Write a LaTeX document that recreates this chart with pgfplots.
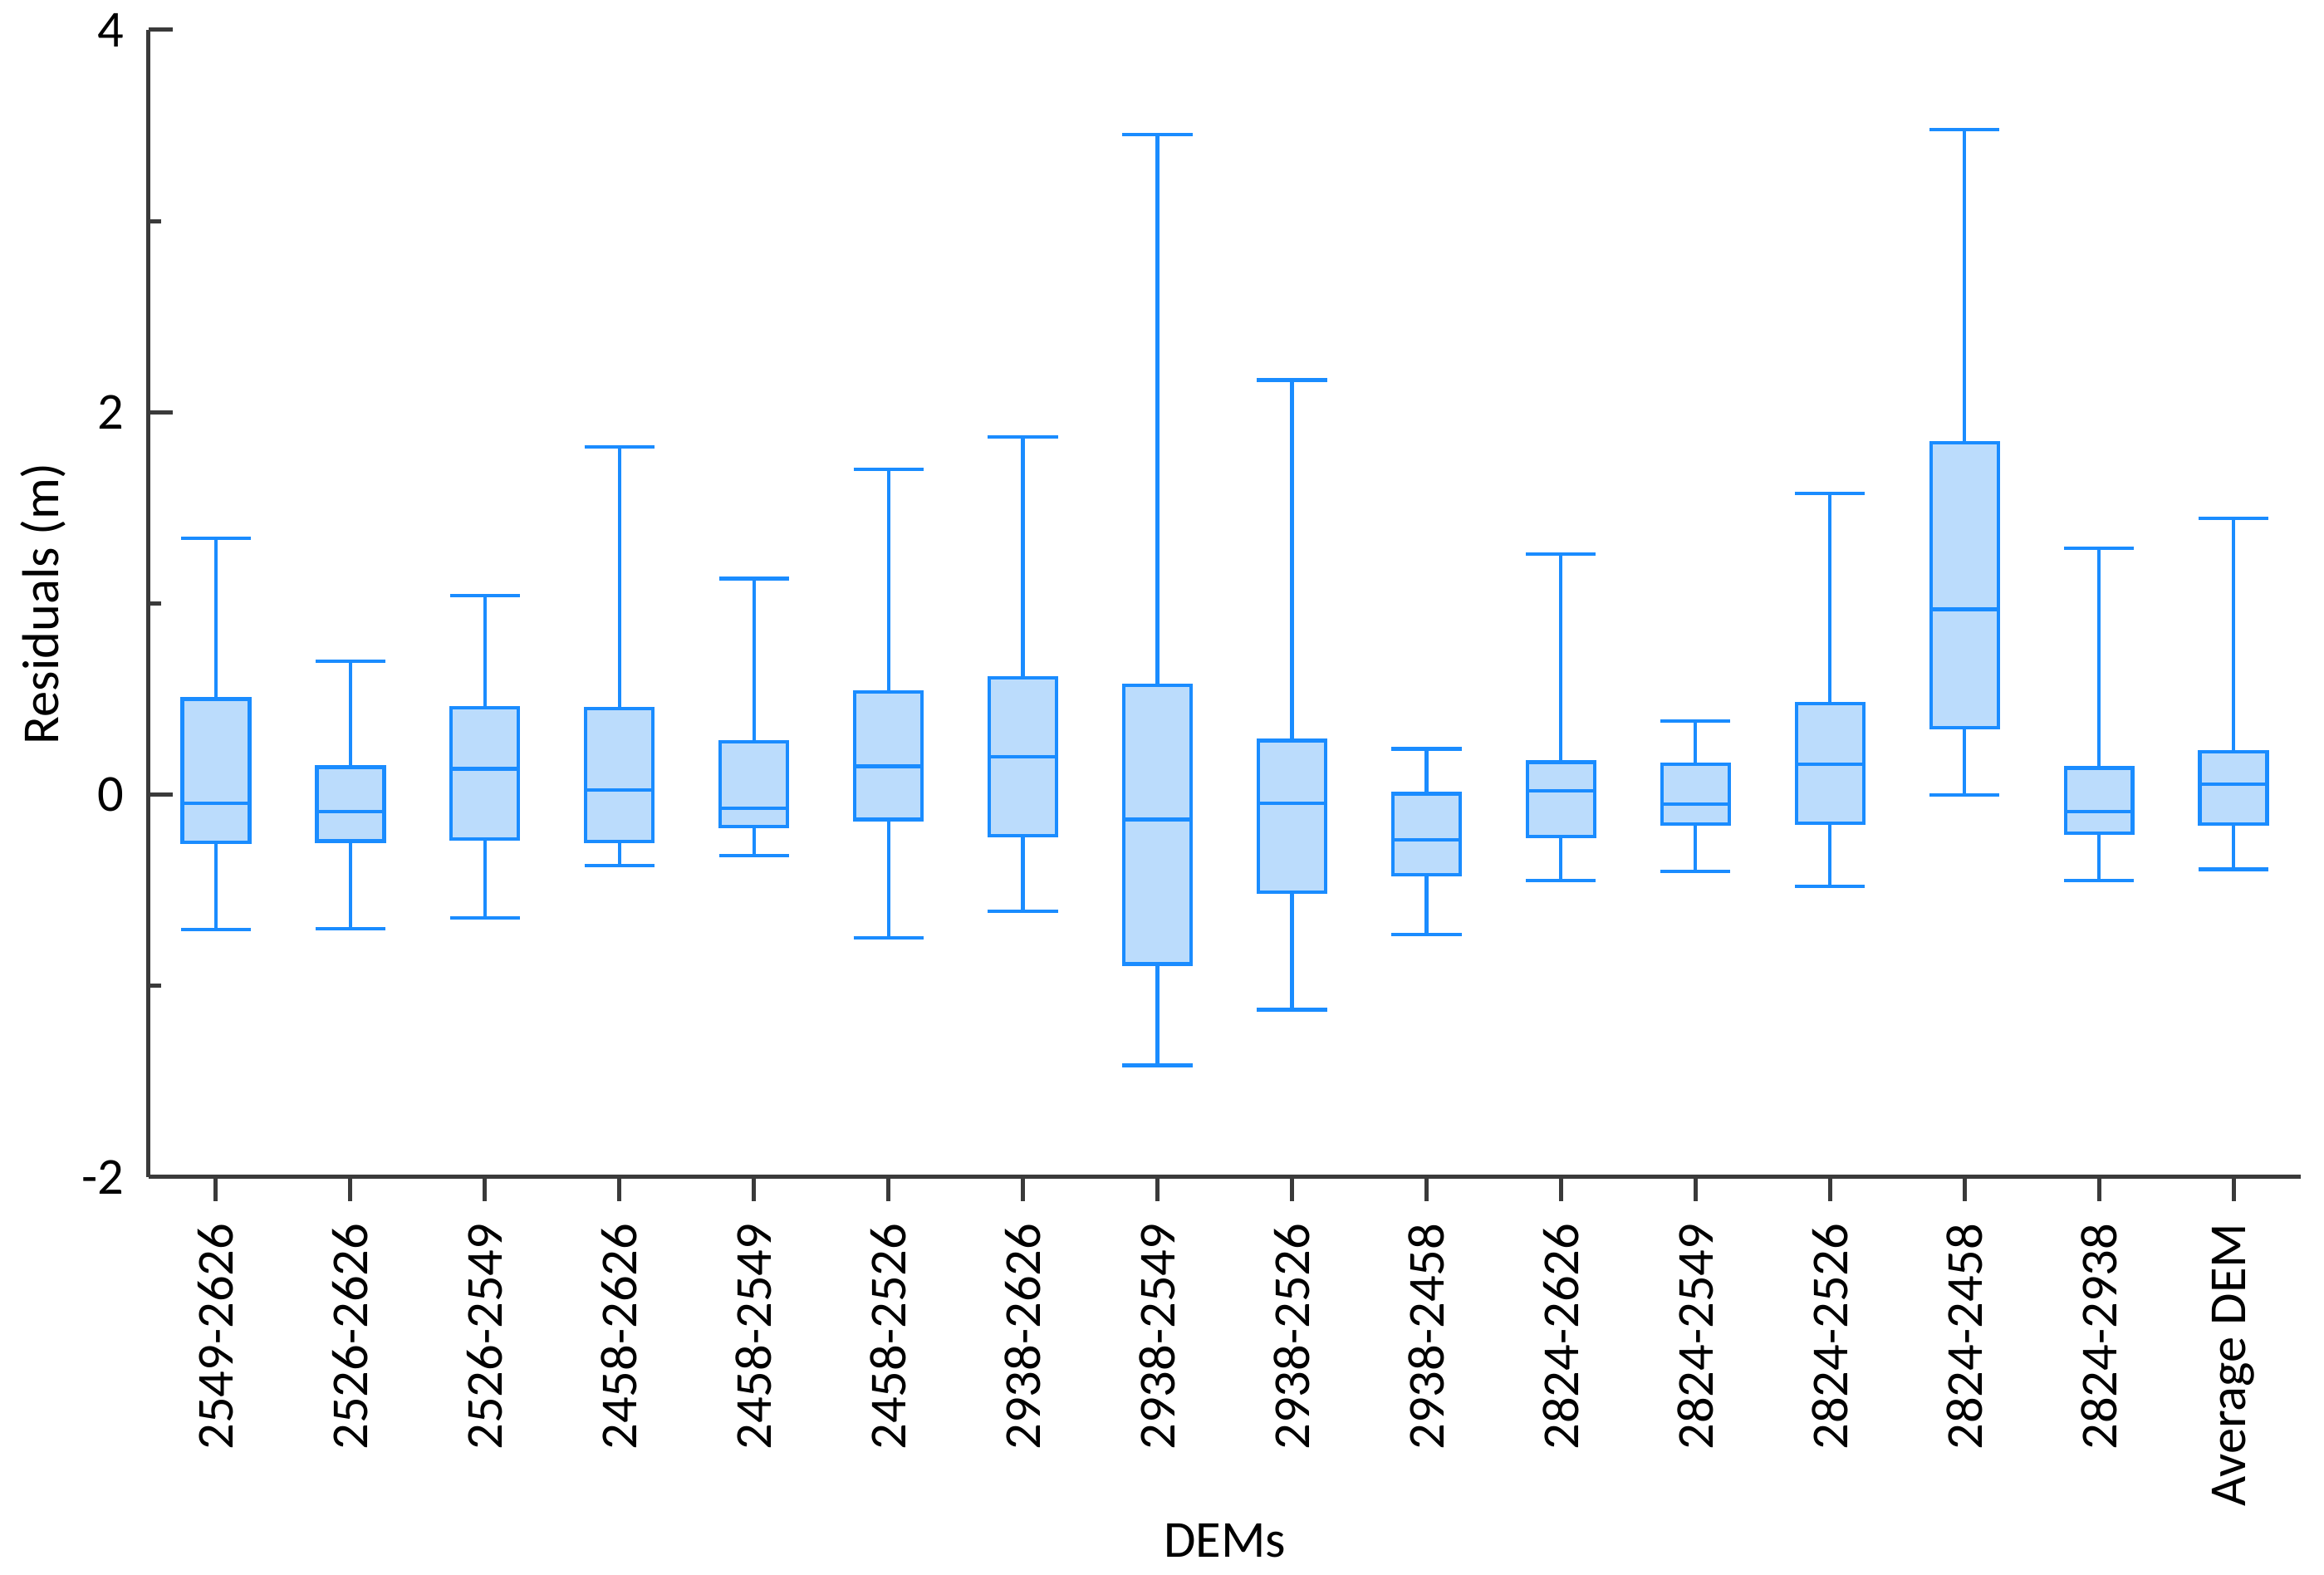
\documentclass[border=0pt]{standalone}
\usepackage{fontspec}
\setmainfont{Carlito}
\usepackage{pgfplots}
\pgfplotsset{compat=1.18}
\usepgfplotslibrary{statistics}
\definecolor{boxline}{HTML}{1A8CFF}
\definecolor{boxfill}{HTML}{BBDCFC}
\definecolor{axisgray}{HTML}{3A3A3A}
\pgfplotsset{
  dembox/.style={boxline, fill=boxfill, line width=0.85pt, solid, mark=none,
    boxplot/draw direction=y, boxplot/box extend=0.5, boxplot/whisker extend=0.52},
}
\begin{document}
\fontsize{12.5pt}{15pt}\selectfont
\begin{tikzpicture}
\begin{axis}[
  scale only axis,
  width=518.2pt, height=276.2pt,
  xmin=0.5, xmax=16.5,
  ymin=-2, ymax=4,
  axis x line*=bottom, axis y line*=left,
  axis line style={axisgray, line width=1pt},
  tick style={axisgray, line width=1pt},
  tick align=inside,
  major tick length=5.8pt,
  minor tick length=3pt,
  x tick style={yshift=-5.8pt},
  xtick={1,...,16},
  xticklabels={2549-2626,2526-2626,2526-2549,2458-2626,2458-2549,2458-2526,2938-2626,2938-2549,2938-2526,2938-2458,2824-2626,2824-2549,2824-2526,2824-2458,2824-2938,Average DEM},
  xticklabel style={yshift=-11pt, rotate=90, anchor=east, inner sep=0pt},
  ytick={-2,0,2,4},
  yticklabels={-2,0,2,4},
  minor ytick={-1,1,3},
  yticklabel style={inner sep=0pt, xshift=-5.8pt, anchor=east},
  /pgf/number format/assume math mode=true,
  xlabel={DEMs},
  ylabel={Residuals (m)},
  xlabel style={at={(rel axis cs:0.5,0)}, anchor=center, yshift=-87.5pt},
  ylabel style={at={(rel axis cs:0,0.5)}, anchor=center, yshift=25.4pt},
  clip=false,
]
\addplot[dembox, boxplot prepared={draw position=1, lower whisker=-0.705, lower quartile=-0.25, median=-0.045, upper quartile=0.50, upper whisker=1.34}] coordinates {};
\addplot[dembox, boxplot prepared={draw position=2, lower whisker=-0.70, lower quartile=-0.243, median=-0.087, upper quartile=0.144, upper whisker=0.699}] coordinates {};
\addplot[dembox, boxplot prepared={draw position=3, lower whisker=-0.645, lower quartile=-0.231, median=0.135, upper quartile=0.454, upper whisker=1.04}] coordinates {};
\addplot[dembox, boxplot prepared={draw position=4, lower whisker=-0.37, lower quartile=-0.245, median=0.025, upper quartile=0.45, upper whisker=1.82}] coordinates {};
\addplot[dembox, boxplot prepared={draw position=5, lower whisker=-0.32, lower quartile=-0.168, median=-0.071, upper quartile=0.278, upper whisker=1.13}] coordinates {};
\addplot[dembox, boxplot prepared={draw position=6, lower whisker=-0.75, lower quartile=-0.13, median=0.148, upper quartile=0.537, upper whisker=1.70}] coordinates {};
\addplot[dembox, boxplot prepared={draw position=7, lower whisker=-0.61, lower quartile=-0.214, median=0.199, upper quartile=0.612, upper whisker=1.87}] coordinates {};
\addplot[dembox, boxplot prepared={draw position=8, lower whisker=-1.416, lower quartile=-0.886, median=-0.13, upper quartile=0.571, upper whisker=3.454}] coordinates {};
\addplot[dembox, boxplot prepared={draw position=9, lower whisker=-1.125, lower quartile=-0.51, median=-0.044, upper quartile=0.283, upper whisker=2.169}] coordinates {};
\addplot[dembox, boxplot prepared={draw position=10, lower whisker=-0.73, lower quartile=-0.42, median=-0.235, upper quartile=0.005, upper whisker=0.24}] coordinates {};
\addplot[dembox, boxplot prepared={draw position=11, lower whisker=-0.45, lower quartile=-0.22, median=0.02, upper quartile=0.17, upper whisker=1.26}] coordinates {};
\addplot[dembox, boxplot prepared={draw position=12, lower whisker=-0.40, lower quartile=-0.155, median=-0.05, upper quartile=0.158, upper whisker=0.385}] coordinates {};
\addplot[dembox, boxplot prepared={draw position=13, lower whisker=-0.48, lower quartile=-0.15, median=0.16, upper quartile=0.475, upper whisker=1.575}] coordinates {};
\addplot[dembox, boxplot prepared={draw position=14, lower whisker=0.0, lower quartile=0.35, median=0.97, upper quartile=1.84, upper whisker=3.48}] coordinates {};
\addplot[dembox, boxplot prepared={draw position=15, lower whisker=-0.45, lower quartile=-0.20, median=-0.09, upper quartile=0.14, upper whisker=1.29}] coordinates {};
\addplot[dembox, boxplot prepared={draw position=16, lower whisker=-0.39, lower quartile=-0.155, median=0.055, upper quartile=0.225, upper whisker=1.445}] coordinates {};
\end{axis}
\path ([xshift=-35.8pt,yshift=-95.2pt]current axis.south west) rectangle ([xshift=5.6pt,yshift=7.2pt]current axis.north east);
\end{tikzpicture}
\end{document}
